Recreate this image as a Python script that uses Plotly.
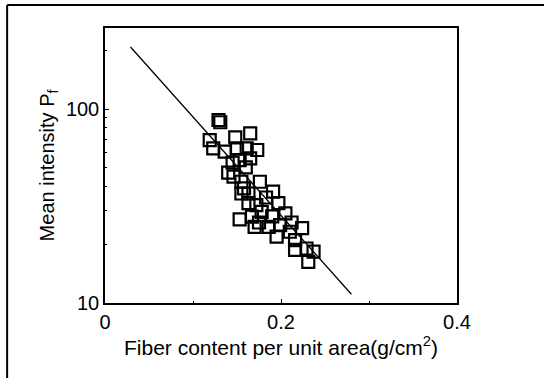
import plotly.graph_objects as go

# Measured points (fiber content g/cm^2, mean intensity)
fiber = [0.129, 0.131, 0.119, 0.123, 0.148, 0.165, 0.150, 0.161, 0.173, 0.136,
         0.153, 0.165, 0.146, 0.155, 0.176, 0.140, 0.163, 0.191, 0.172, 0.197,
         0.163, 0.205, 0.153, 0.170, 0.186, 0.199, 0.195, 0.224, 0.216, 0.216,
         0.229, 0.231, 0.237, 0.167, 0.155, 0.210, 0.158, 0.178, 0.190, 0.212,
         0.183, 0.175, 0.160, 0.145]
intensity = [87.8, 85.5, 69.2, 62.7, 71.4, 75.0, 62.7, 62.7, 61.5, 60.3,
             54.6, 55.7, 44.8, 42.2, 42.2, 47.0, 36.7, 37.5, 32.0, 32.7,
             32.7, 29.0, 27.0, 24.7, 24.7, 25.2, 22.0, 24.3, 21.1, 18.8,
             19.1, 16.3, 18.4, 27.9, 36.7, 23.3, 39.0, 29.5, 28.0, 26.0,
             35.0, 26.0, 50.0, 53.0]

# Fitted line end points
fit_x = [0.029, 0.280]
fit_y = [209, 11.1]

xtick_vals = [0, 0.2, 0.4]
xtick_text = ["0", "0.2", "0.4"]
ytick_vals = [10, 100]
ytick_text = ["10", "100"]

fig = go.Figure()
fig.add_trace(go.Scatter(
    x=fiber, y=intensity, mode="markers",
    marker=dict(symbol="square-open", size=12, color="black",
                line=dict(width=2.2, color="black")),
    showlegend=False))
fig.add_trace(go.Scatter(
    x=fit_x, y=fit_y, mode="lines",
    line=dict(color="black", width=1.3), showlegend=False))

fig.update_layout(
    width=544, height=378,
    margin=dict(l=105, r=87, t=28, b=75),
    paper_bgcolor="white", plot_bgcolor="white",
    font=dict(family="Liberation Sans, Arial, sans-serif", size=20, color="black"),
    xaxis=dict(
        range=[0, 0.4], tickvals=xtick_vals, ticktext=xtick_text,
        showline=True, linecolor="black", linewidth=1.5, mirror=True,
        ticks="inside", ticklen=4, tickcolor="black", showgrid=False, zeroline=False,
        minor=dict(ticks="inside", ticklen=2, dtick=0.1, tickcolor="black"),
        tickfont=dict(size=20),
        title=dict(text="Fiber content per unit area(g/cm<sup>2</sup>)",
                   font=dict(size=21), standoff=8),
    ),
    yaxis=dict(
        type="log", range=[1, 2.418], tickvals=ytick_vals, ticktext=ytick_text,
        showline=True, linecolor="black", linewidth=1.5, mirror=True,
        ticks="inside", ticklen=4, tickcolor="black", showgrid=False, zeroline=False,
        minor=dict(ticks="inside", ticklen=2, tickcolor="black",
                   tickvals=[20, 30, 40, 50, 60, 70, 80, 90, 200]),
        tickfont=dict(size=20),
        title=dict(text="Mean intensity P<sub>f</sub>", font=dict(size=20), standoff=6),
    ),
    shapes=[
        dict(type="line", xref="paper", yref="paper", x0=-0.278, x1=1.25,
             y0=1.0836, y1=1.0836, line=dict(color="black", width=2)),
        dict(type="line", xref="paper", yref="paper", x0=-0.278, x1=-0.278,
             y0=1.0836, y1=-0.3, line=dict(color="black", width=2)),
    ],
)

fig.write_html("out.html")
